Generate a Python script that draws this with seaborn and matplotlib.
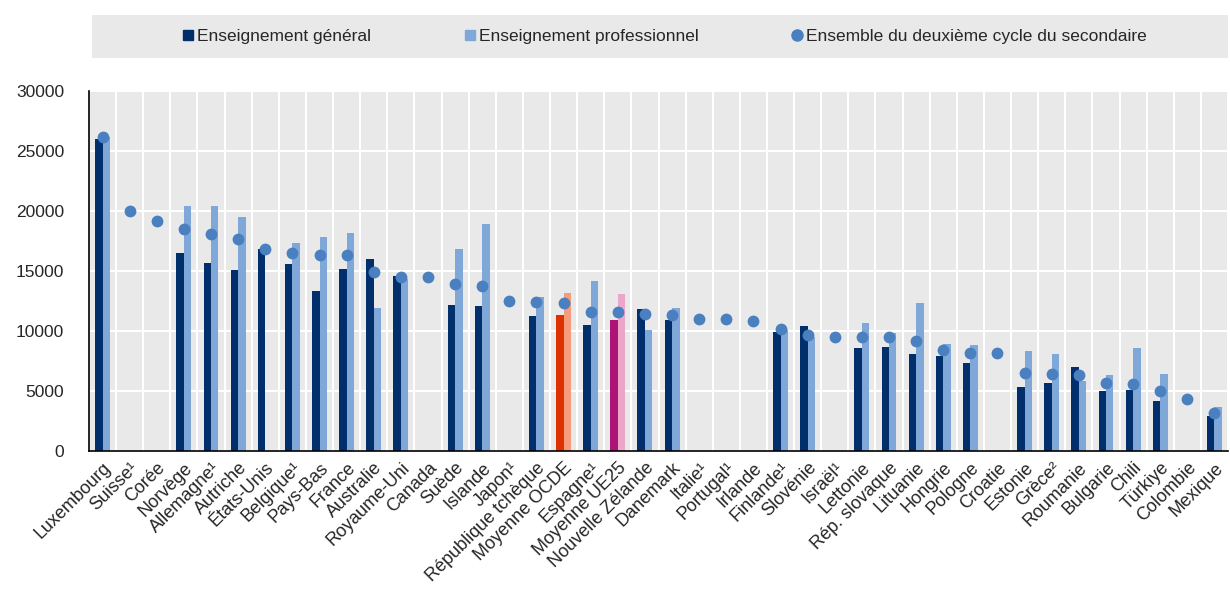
import numpy as np
import pandas as pd
import seaborn as sns
from matplotlib import pyplot as plt
from matplotlib.patches import Rectangle
from matplotlib.lines import Line2D

sns.set_style("white")
plt.rcParams['font.family'] = ['Liberation Sans', 'DejaVu Sans']

pays = ["Luxembourg", "Suisse¹", "Corée", "Norvège", "Allemagne¹", "Autriche", "États-Unis",
        "Belgique¹", "Pays-Bas", "France", "Australie", "Royaume-Uni", "Canada", "Suède",
        "Islande", "Japon¹", "République tchèque", "Moyenne OCDE", "Espagne¹", "Moyenne UE25",
        "Nouvelle Zélande", "Danemark", "Italie¹", "Portugal¹", "Irlande", "Finlande¹",
        "Slovénie", "Israël¹", "Lettonie", "Rép. slovaque", "Lituanie", "Hongrie", "Pologne",
        "Croatie", "Estonie", "Grèce²", "Roumanie", "Bulgarie", "Chili", "Türkiye",
        "Colombie", "Mexique"]

nan = np.nan
general = [26000, nan, nan, 16500, 15700, 15100, 16800, 15600, 13300, 15200, 16000, 14600,
           nan, 12200, 12100, nan, 11250, 11300, 10500, 10900, 11800, 10900, nan, nan, nan,
           9950, 10400, nan, 8600, 8700, 8100, 7900, 7350, nan, 5300, 5700, 7000, 5000,
           5100, 4150, nan, 2900]
professionnel = [26200, nan, nan, 20400, 20400, 19500, nan, 17300, 17850, 18200, 11950, 14350,
                 nan, 16800, 18900, nan, 12800, 13200, 14200, 13100, 10100, 11900, nan, nan, nan,
                 10100, 9500, nan, 10700, 9800, 12300, 8900, 8800, nan, 8300, 8050, 5800, 6300,
                 8600, 6400, nan, 3700]
ensemble = [26200, 20000, 19200, 18500, 18100, 17700, 16800, 16500, 16300, 16300, 14900, 14500,
            14500, 13950, 13760, 12500, 12400, 12300, 11600, 11600, 11400, 11300, 11000, 11000,
            10860, 10200, 9700, 9500, 9470, 9470, 9200, 8400, 8200, 8200, 6500, 6400, 6300,
            5700, 5600, 5000, 4300, 3200]

series = ["Enseignement général", "Enseignement professionnel", "Ensemble du deuxième cycle du secondaire"]

dark = "#002F6C"
light = "#7FA8D9"
dot = "#4A7FC0"
special = {"Moyenne OCDE": ("#DF3000", "#F69B7C"),
           "Moyenne UE25": ("#AD1478", "#EBA6C9")}

df = pd.DataFrame({"pays": pays * 2,
                   "type": [series[0]] * len(pays) + [series[1]] * len(pays),
                   "valeur": general + professionnel})

fig = plt.figure(figsize=(12.3, 5.91), dpi=100)
ax = fig.add_axes([89 / 1230, 1 - 451 / 591, (1228 - 89) / 1230, 360 / 591])
ax.set_facecolor("#E9E9E9")

sns.barplot(data=df, x="pays", y="valeur", hue="type", order=pays, hue_order=series[:2],
            palette=[dark, light], width=0.55, saturation=1, legend=False, errorbar=None, ax=ax)

for p in ax.patches:
    c = p.get_x() + p.get_width() / 2
    i = int(round(c))
    if pays[i] in special:
        p.set_facecolor(special[pays[i]][0] if c < i else special[pays[i]][1])
    p.set_edgecolor("none")

sns.stripplot(x=pays, y=ensemble, order=pays, jitter=False, color=dot, size=8.5,
              linewidth=0, ax=ax, zorder=4)

ax.set_xlim(-0.5, len(pays) - 0.5)
ax.set_ylim(0, 30000)
ax.set_yticks(range(0, 30001, 5000))
ax.set_xticks(range(len(pays)))
ax.set_xticklabels(pays, rotation=45, ha="right", rotation_mode="anchor", fontsize=13)
ax.set_xticks(np.arange(-0.5, len(pays), 1), minor=True)
ax.tick_params(axis="x", which="major", length=0, pad=6)
ax.tick_params(axis="x", which="minor", length=4, direction="in", color="black")
ax.tick_params(axis="y", length=5, direction="in", labelsize=12.5, pad=18)
ax.set_axisbelow(True)
ax.yaxis.grid(True, color="white", lw=1.5)
ax.xaxis.grid(True, which="minor", color="white", lw=1.5)
ax.xaxis.grid(False, which="major")
ax.set_xlabel("")
ax.set_ylabel("")
for s in ["top", "right"]:
    ax.spines[s].set_visible(False)
for s in ["left", "bottom"]:
    ax.spines[s].set_color("black")
    ax.spines[s].set_linewidth(1.2)

fig.patches.append(Rectangle((92 / 1230, 1 - 58 / 591), (1228 - 92) / 1230, 43 / 591,
                             transform=fig.transFigure, facecolor="#E9E9E9", edgecolor="none"))
handles = [Line2D([], [], marker="s", ls="none", color=dark, markersize=7.5),
           Line2D([], [], marker="s", ls="none", color=light, markersize=7.5),
           Line2D([], [], marker="o", ls="none", color=dot, markersize=8)]
fig.legend(handles, series, ncol=3, loc="center", bbox_to_anchor=(664 / 1230, 1 - 36 / 591),
           frameon=False, fontsize=12.5, handletextpad=0.1, columnspacing=5.3, handlelength=0.8)

plt.savefig("out.png")
